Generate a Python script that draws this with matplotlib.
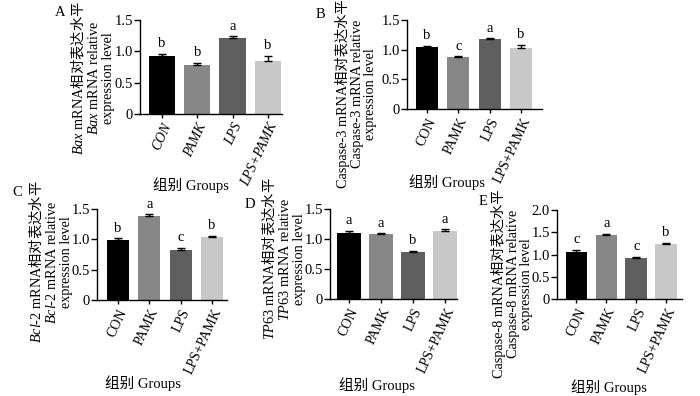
import matplotlib
matplotlib.use("Agg")
import matplotlib.pyplot as plt

plt.rcParams["font.family"] = ["Liberation Serif", "Noto Sans CJK SC"]
plt.rcParams["font.size"] = 10
plt.rcParams["mathtext.fontset"] = "custom"
plt.rcParams["mathtext.rm"] = "Liberation Serif"
plt.rcParams["mathtext.it"] = "Liberation Serif:italic"
plt.rcParams["mathtext.sf"] = "Noto Sans CJK SC"
plt.rcParams["axes.linewidth"] = 1.0

W, H = 700, 396

# data
GROUPS = ["CON", "PAMK", "LPS", "LPS+PAMK"]
COLORS = ["#000000", "#878787", "#5f5f5f", "#c8c8c8"]

bax_mean = [0.93, 0.78, 1.21, 0.85]
bax_err = [0.03, 0.04, 0.03, 0.08]
bax_sig = ["b", "b", "a", "b"]

casp3_mean = [1.05, 0.87, 1.18, 1.03]
casp3_err = [0.02, 0.02, 0.01, 0.05]
casp3_sig = ["b", "c", "a", "b"]

bcl2_mean = [0.99, 1.38, 0.83, 1.04]
bcl2_err = [0.03, 0.035, 0.03, 0.02]
bcl2_sig = ["b", "a", "c", "b"]

tp63_mean = [1.10, 1.08, 0.79, 1.13]
tp63_err = [0.04, 0.015, 0.015, 0.03]
tp63_sig = ["a", "a", "b", "a"]

casp8_mean = [1.06, 1.43, 0.93, 1.24]
casp8_err = [0.05, 0.04, 0.02, 0.02]
casp8_sig = ["c", "a", "c", "b"]

ylabels = {
    "A": "$\\mathit{Bax}$ mRNA$\\mathsf{相对表达水平}$\n$\\mathit{Bax}$ mRNA relative\nexpression level",
    "B": "Caspase-3 mRNA相对表达水平\nCaspase-3 mRNA relative\nexpression level",
    "C": "$\\mathit{Bcl}$-2 mRNA$\\mathsf{相对表达水平}$\n$\\mathit{Bcl}$-2 mRNA relative\nexpression level",
    "D": "$\\mathit{TP63}$ mRNA$\\mathsf{相对表达水平}$\n$\\mathit{TP63}$ mRNA relative\nexpression level",
    "E": "Caspase-8 mRNA相对表达水平\nCaspase-8 mRNA relative\nexpression level",
}

# layout in pixels (left, top, right, bottom), xlim, bar width, ymax
panels = [
    ("A", bax_mean, bax_err, bax_sig, (140, 20, 282, 114), (-0.62, 3.40), 0.74, 1.5, True,
     (60, 13), (92, 78), (191, 185)),
    ("B", casp3_mean, casp3_err, casp3_sig, (407, 20, 542, 109), (-0.64, 3.67), 0.70, 1.5, False,
     (320, 15), (356, 94), (447, 182)),
    ("C", bcl2_mean, bcl2_err, bcl2_sig, (97, 209, 227, 300), (-0.67, 3.48), 0.70, 1.5, False,
     (17, 192), (50, 262), (143, 383)),
    ("D", tp63_mean, tp63_err, tp63_sig, (330, 209, 457, 299), (-0.59, 3.37), 0.75, 1.5, False,
     (250, 205), (283, 259), (377, 385)),
    ("E", casp8_mean, casp8_err, casp8_sig, (557, 210, 682, 299), (-0.65, 3.53), 0.72, 2.0, False,
     (483, 202), (512, 284), (609, 387)),
]


def fx(px):
    return px / W


def fy(py):
    return 1 - py / H


fig = plt.figure(figsize=(W / 100, H / 100), dpi=100)

for (name, mean, err, sig, box, xlim, width, ymax, italic,
     letter_pos, ylab_pos, xlab_pos) in panels:
    left, top, right, bottom = box
    ax = fig.add_axes([fx(left), fy(bottom), (right - left) / W, (bottom - top) / H])
    x = list(range(len(GROUPS)))
    ax.bar(x, mean, width=width, color=COLORS, linewidth=0)
    ax.errorbar(x, mean, yerr=[[0] * len(err), err], fmt="none", ecolor="black",
                elinewidth=1, capsize=3, capthick=1)
    for xi, m, e, s in zip(x, mean, err, sig):
        ax.annotate(s, (xi, m + e), xytext=(0, 2.5), textcoords="offset points",
                    ha="center", va="bottom", fontsize=10.5)

    ax.set_xlim(*xlim)
    ax.set_ylim(0, ymax)
    ticks = [i * 0.5 for i in range(int(ymax / 0.5) + 1)]
    ax.set_yticks(ticks, ["0"] + [f"{t:.1f}" for t in ticks[1:]])
    ax.set_xticks(x, GROUPS, rotation=65, ha="right", rotation_mode="anchor",
                  fontstyle="italic" if italic else "normal")
    ax.tick_params(axis="y", direction="out", length=4, width=1, pad=1, labelsize=10.5)
    ax.tick_params(axis="x", direction="out", length=3, width=1, pad=2, labelsize=10)
    for side in ("top", "right"):
        ax.spines[side].set_visible(False)

    fig.text(fx(letter_pos[0]), fy(letter_pos[1]), name, ha="center", va="center", fontsize=10.5)
    fig.text(fx(ylab_pos[0]), fy(ylab_pos[1]), ylabels[name], rotation=90,
             ha="center", va="center", multialignment="center", linespacing=1.05, fontsize=10.3)
    fig.text(fx(xlab_pos[0]), fy(xlab_pos[1]), "组别 Groups", ha="center", va="center", fontsize=10.5)

fig.savefig("out.png", dpi=100)
